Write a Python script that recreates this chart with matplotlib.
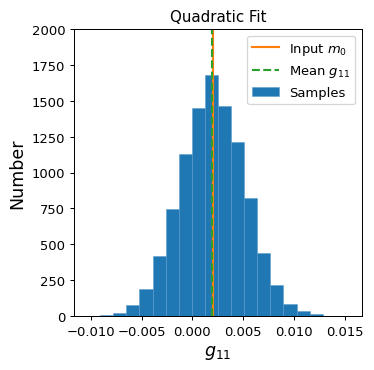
import matplotlib
matplotlib.use('Agg')
import matplotlib.pyplot as plt
import numpy as np

# histogram of g11 samples (20 bins), counts
bin_lo = -0.01036
bin_hi = 0.0154
counts = [1, 5, 19, 79, 186, 416, 748, 1129, 1447, 1682,
          1461, 1215, 820, 439, 218, 86, 35, 12, 2, 1]
input_m0 = 0.002
mean_g11 = 0.00196

edges = np.linspace(bin_lo, bin_hi, len(counts) + 1)
centers = 0.5 * (edges[:-1] + edges[1:])

dpi = 90
fig = plt.figure(figsize=(374 / dpi, 371 / dpi), dpi=dpi)
ax = fig.add_axes([74 / 374, 1 - 317 / 371, (362 - 74) / 374, (317 - 30) / 371])

ax.axvline(input_m0, color='C1', lw=1.7, label='Input $m_0$')
ax.axvline(mean_g11, color='C2', lw=1.7, ls='--', label='Mean $g_{11}$')
ax.hist(centers, bins=edges, weights=counts, color='C0', ec='#5a9bcb',
        lw=0.4, label='Samples', zorder=1)

ax.set_ylim(0, 2000)
ax.set_xticks([-0.01, -0.005, 0.0, 0.005, 0.01, 0.015])
ax.set_xticklabels(['−0.010', '−0.005', '0.000', '0.005', '0.010', '0.015'])
ax.set_title('Quadratic Fit', fontsize=12)
ax.set_xlabel('$g_{11}$', fontsize=14)
ax.set_ylabel('Number', fontsize=14)
ax.tick_params(labelsize=10.5)
ax.legend(loc='upper right', fontsize=10.5)

fig.savefig('out.png', dpi=dpi)
